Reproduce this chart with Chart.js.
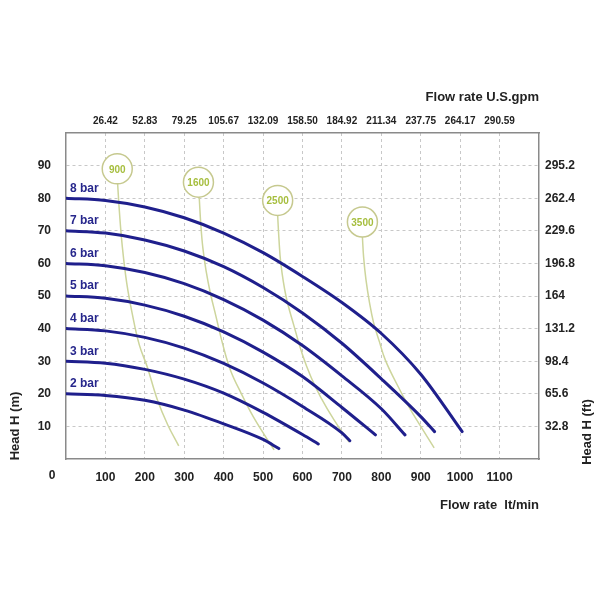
<!DOCTYPE html>
<html>
<head>
<meta charset="utf-8">
<script src="https://cdn.jsdelivr.net/npm/chart.js@4.4.1/dist/chart.umd.min.js"></script>
<style>
  html, body { margin: 0; padding: 0; background: #fff; }
</style>
</head>
<body>
<canvas id="pump" width="600" height="600"></canvas>
<script>
// tick labels
var flowTicks = [100, 200, 300, 400, 500, 600, 700, 800, 900, 1000, 1100];
var gpmLabels = ['26.42', '52.83', '79.25', '105.67', '132.09', '158.50', '184.92', '211.34', '237.75', '264.17', '290.59'];
var headTicks = [10, 20, 30, 40, 50, 60, 70, 80, 90];
var ftLabels = ['32.8', '65.6', '98.4', '131.2', '164', '196.8', '229.6', '262.4', '295.2'];

// pressure curves (flow lt/min, head m)
var barNames = ['2 bar', '3 bar', '4 bar', '5 bar', '6 bar', '7 bar', '8 bar'];
var bar2Flow = [0, 100, 200, 300, 400, 500, 540];
var bar2Head = [20, 19.5, 18, 15, 10.8, 6, 3.2];
var bar3Flow = [0, 100, 200, 300, 400, 500, 600, 640];
var bar3Head = [30, 29.4, 27.5, 24.5, 20.2, 14.3, 7.5, 4.6];
var bar4Flow = [0, 100, 200, 300, 400, 500, 600, 700, 720];
var bar4Head = [40, 39.3, 37.3, 34, 29.3, 23.3, 16.1, 8, 5.6];
var bar5Flow = [0, 100, 200, 300, 400, 500, 600, 700, 785];
var bar5Head = [50, 49.3, 47.2, 43.8, 39, 32.8, 25.3, 15.8, 7.4];
var bar6Flow = [0, 100, 200, 300, 400, 500, 600, 700, 800, 860];
var bar6Head = [60, 59.3, 57.2, 53.8, 48.9, 42.6, 34.8, 25.5, 15.4, 7.4];
var bar7Flow = [0, 100, 200, 300, 400, 500, 600, 700, 800, 900, 935];
var bar7Head = [70, 69.3, 67.2, 63.8, 59, 52.6, 44.8, 35.5, 24.6, 13, 8.4];
var bar8Flow = [0, 100, 200, 300, 400, 500, 600, 700, 800, 900, 1005];
var bar8Head = [80, 79.3, 77.3, 74, 69.3, 63.3, 56, 48, 38.5, 26, 8.4];

// speed lines (rpm)
var speedNames = ['900', '1600', '2500', '3500'];
var speedCircleFlow = [130, 336, 537, 752];
var speedCircleHead = [89, 84.9, 79.3, 72.7];
var rpm900Flow = [131, 136, 143, 154, 168, 186, 206, 232, 258, 286];
var rpm900Head = [84.4, 75, 65, 54, 44.6, 35, 28.3, 18.1, 10.5, 4];
var rpm1600Flow = [338, 342, 347, 355, 366, 380, 398, 418, 445, 475, 503, 528];
var rpm1600Head = [80.3, 72, 65, 58, 51, 44, 35, 27, 20, 13, 7.5, 2.8];
var rpm2500Flow = [537, 540, 545, 558, 578, 600, 622, 646, 680, 718];
var rpm2500Head = [74.7, 68, 60, 50, 41, 32, 25, 19, 12, 5.2];
var rpm3500Flow = [752, 755, 761, 770, 780, 795, 810, 835, 870, 900, 934];
var rpm3500Head = [68.1, 62, 55, 48, 42, 36, 30.4, 24, 16, 10, 3.4];

var BLUE = '#1f1f8c';
var GREEN_LINE = '#cdd59c';
var GREEN_RING = '#c6c98f';
var GREEN_TEXT = '#a6be3e';
var FONT = '"Liberation Sans", Arial, sans-serif';

function toPoints(flow, head) {
  var pts = [];
  for (var i = 0; i < flow.length; i++) {
    pts.push({x: flow[i], y: head[i]});
  }
  return pts;
}

var barFlows = [bar2Flow, bar3Flow, bar4Flow, bar5Flow, bar6Flow, bar7Flow, bar8Flow];
var barHeads = [bar2Head, bar3Head, bar4Head, bar5Head, bar6Head, bar7Head, bar8Head];
var speedFlows = [rpm900Flow, rpm1600Flow, rpm2500Flow, rpm3500Flow];
var speedHeads = [rpm900Head, rpm1600Head, rpm2500Head, rpm3500Head];

var datasets = [];

datasets.push({
  label: 'rpm',
  data: toPoints(speedCircleFlow, speedCircleHead),
  showLine: false,
  pointRadius: 15,
  pointBackgroundColor: '#ffffff',
  pointBorderColor: GREEN_RING,
  pointBorderWidth: 1.5,
  order: 0
});

for (var i = 0; i < barNames.length; i++) {
  datasets.push({
    label: barNames[i],
    data: toPoints(barFlows[i], barHeads[i]),
    borderColor: BLUE,
    borderWidth: 3,
    borderCapStyle: 'round',
    pointRadius: 0,
    cubicInterpolationMode: 'monotone',
    order: 1
  });
}

for (var j = 0; j < speedNames.length; j++) {
  datasets.push({
    label: speedNames[j] + ' rpm',
    data: toPoints(speedFlows[j], speedHeads[j]),
    borderColor: GREEN_LINE,
    borderWidth: 1.5,
    pointRadius: 0,
    tension: 0.4,
    order: 2
  });
}

function text(ctx, str, x, y, font, color, align, angle) {
  ctx.save();
  ctx.font = font;
  ctx.fillStyle = color;
  ctx.textAlign = align || 'center';
  ctx.textBaseline = 'middle';
  ctx.translate(x, y);
  if (angle) ctx.rotate(angle);
  ctx.fillText(str, 0, 0);
  ctx.restore();
}

var labelPlugin = {
  id: 'pumpLabels',
  afterDatasetsDraw: function (chart) {
    var ctx = chart.ctx;
    var xs = chart.scales.x;
    var ys = chart.scales.y;
    for (var i = 0; i < barNames.length; i++) {
      text(ctx, barNames[i], xs.getPixelForValue(barFlows[i][0]) + 4,
        ys.getPixelForValue(barHeads[i][0]) - 10, 'bold 12px ' + FONT, '#27278c', 'left');
    }
    for (var j = 0; j < speedNames.length; j++) {
      text(ctx, speedNames[j], xs.getPixelForValue(speedCircleFlow[j]),
        ys.getPixelForValue(speedCircleHead[j]) + 1, 'bold 10px ' + FONT, GREEN_TEXT, 'center');
    }
  },
  afterDraw: function (chart) {
    var ctx = chart.ctx;
    var area = chart.chartArea;
    var titleFont = 'bold 13px ' + FONT;
    text(ctx, 'Flow rate U.S.gpm', area.right, 97, titleFont, '#222', 'right');
    text(ctx, 'Flow rate  lt/min', area.right, 505, titleFont, '#222', 'right');
    text(ctx, 'Head H (m)', 15, 426, titleFont, '#222', 'center', -Math.PI / 2);
    text(ctx, 'Head H (ft)', 587, 432, titleFont, '#222', 'center', -Math.PI / 2);
    text(ctx, '0', 52, 476, 'bold 12px ' + FONT, '#222', 'center');
  }
};

var tickFont = {family: FONT, size: 12, weight: 'bold'};
var smallTickFont = {family: FONT, size: 10, weight: 'bold'};
var gridStyle = {color: '#c8c8c8', lineWidth: 1, drawTicks: false};
var borderStyle = {display: true, color: '#8a8a8a', width: 1.5, dash: [3, 3]};

new Chart(document.getElementById('pump'), {
  type: 'line',
  data: {datasets: datasets},
  plugins: [labelPlugin],
  options: {
    responsive: false,
    animation: false,
    layout: {padding: 0},
    plugins: {
      legend: {display: false},
      tooltip: {enabled: false}
    },
    scales: {
      x: {
        type: 'linear',
        position: 'bottom',
        min: 0,
        max: 1200,
        grid: gridStyle,
        border: borderStyle,
        afterBuildTicks: function (scale) {
          scale.ticks = flowTicks.map(function (v) { return {value: v}; });
        },
        ticks: {
          font: tickFont,
          color: '#222',
          padding: 11,
          maxRotation: 0,
          autoSkip: false,
          callback: function (value) { return String(value); }
        },
        afterFit: function (scale) { scale.height = 141; }
      },
      x2: {
        type: 'linear',
        position: 'top',
        min: 0,
        max: 1200,
        grid: {display: false, drawTicks: false},
        border: borderStyle,
        afterBuildTicks: function (scale) {
          scale.ticks = flowTicks.map(function (v) { return {value: v}; });
        },
        ticks: {
          font: smallTickFont,
          color: '#222',
          padding: 6,
          maxRotation: 0,
          autoSkip: false,
          callback: function (value) {
            var k = flowTicks.indexOf(value);
            return k < 0 ? '' : gpmLabels[k];
          }
        },
        afterFit: function (scale) { scale.height = 133; }
      },
      y: {
        type: 'linear',
        position: 'left',
        min: 0,
        max: 100,
        grid: gridStyle,
        border: borderStyle,
        afterBuildTicks: function (scale) {
          scale.ticks = headTicks.map(function (v) { return {value: v}; });
        },
        ticks: {
          font: tickFont,
          color: '#222',
          padding: 15,
          autoSkip: false,
          callback: function (value) { return String(value); }
        },
        afterFit: function (scale) { scale.width = 66; }
      },
      y2: {
        type: 'linear',
        position: 'right',
        min: 0,
        max: 100,
        grid: {display: false, drawTicks: false},
        border: borderStyle,
        afterBuildTicks: function (scale) {
          scale.ticks = headTicks.map(function (v) { return {value: v}; });
        },
        ticks: {
          font: tickFont,
          color: '#222',
          padding: 6,
          autoSkip: false,
          callback: function (value) {
            var k = headTicks.indexOf(value);
            return k < 0 ? '' : ftLabels[k];
          }
        },
        afterFit: function (scale) { scale.width = 61; }
      }
    }
  }
});
</script>
</body>
</html>
